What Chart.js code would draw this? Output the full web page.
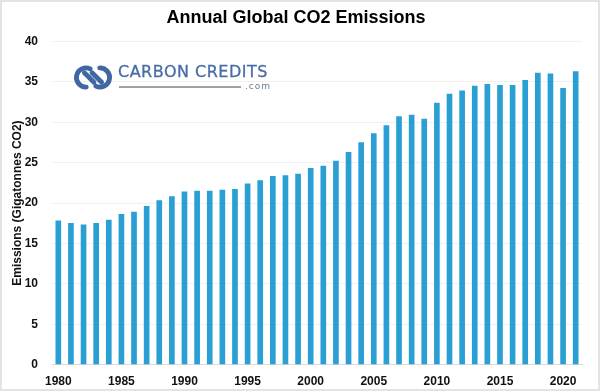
<!DOCTYPE html>
<html>
<head>
<meta charset="utf-8">
<script src="https://cdn.jsdelivr.net/npm/chart.js@4"></script>
<style>
  html, body { margin: 0; padding: 0; background: #fff; }
  #wrap { position: relative; width: 600px; height: 391px; }
  #frame { position: absolute; inset: 0; border: 2px solid #e3e3e3; pointer-events: none; }
  #logo { position: absolute; left: 71px; top: 62px; width: 200px; height: 32px; font-family: 'DejaVu Sans', sans-serif; }
  #logo svg { position: absolute; left: 0; top: 1px; }
  #logo .name { position: absolute; left: 47px; top: 0; font-size: 16px; color: #476ca6; letter-spacing: 0.5px; white-space: nowrap; -webkit-text-stroke: 0.3px #476ca6; }
  #logo .rule { position: absolute; left: 48px; top: 24px; width: 122px; height: 2px; background: #a0a0a0; }
  #logo .com { position: absolute; left: 174px; top: 19px; font-size: 9px; color: #6d7f99; letter-spacing: 1px; }
</style>
</head>
<body>
<div id="wrap">
  <canvas id="co2Chart" width="600" height="391"></canvas>
  <div id="logo">
    <svg width="44" height="29" viewBox="0 0 46 30">
      <path d="M20 6 A10 10 0 1 0 16 25" fill="none" stroke="#3f67a3" stroke-width="5" stroke-linecap="round"/>
      <path d="M26 24 A10 10 0 1 0 30 5" fill="none" stroke="#3f67a3" stroke-width="5" stroke-linecap="round"/>
      <path d="M14 10 L24 20" fill="none" stroke="#3f67a3" stroke-width="5" stroke-linecap="round"/>
      <path d="M22 10 L32 20" fill="none" stroke="#3f67a3" stroke-width="5" stroke-linecap="round"/>
    </svg>
    <span class="name">CARBON CREDITS</span>
    <div class="rule"></div>
    <span class="com">.com</span>
  </div>
  <div id="frame"></div>
</div>
<script>
// ─── Data ─────────────────────────────────────────────
const years = [
  '1980', '1981', '1982', '1983', '1984', '1985', '1986', '1987', '1988', '1989',
  '1990', '1991', '1992', '1993', '1994', '1995', '1996', '1997', '1998', '1999',
  '2000', '2001', '2002', '2003', '2004', '2005', '2006', '2007', '2008', '2009',
  '2010', '2011', '2012', '2013', '2014', '2015', '2016', '2017', '2018', '2019',
  '2020', '2021'
]
const emissions = [
  17.8, 17.5, 17.3, 17.5, 17.9, 18.6, 18.9, 19.6, 20.3, 20.8,
  21.4, 21.5, 21.5, 21.6, 21.7, 22.4, 22.8, 23.3, 23.4, 23.6,
  24.3, 24.6, 25.2, 26.3, 27.5, 28.6, 29.6, 30.7, 30.9, 30.4,
  32.4, 33.5, 33.9, 34.5, 34.7, 34.6, 34.6, 35.2, 36.1, 36.0,
  34.2, 36.3
]
const shownYears = ['1980', '1985', '1990', '1995', '2000', '2005', '2010', '2015', '2020']

// ─── Style ────────────────────────────────────────────
const FONT     = "'Liberation Sans', Arial, sans-serif"
const BAR_BLUE = '#2a9fd3'

// ─── Chart ────────────────────────────────────────────
const ctx = document.getElementById('co2Chart').getContext('2d')

new Chart(ctx, {
  type: 'bar',
  data: {
    labels: years,
    datasets: [{
      label: 'Emissions',
      data: emissions,
      backgroundColor: BAR_BLUE,
      barThickness: 5
    }]
  },
  options: {
    responsive: false,
    animation: false,
    layout: { padding: { top: 0, right: 18, bottom: 0, left: 10 } },
    scales: {
      x: {
        grid: { display: false },
        border: { color: '#d9d9d9' },
        ticks: {
          autoSkip: false,
          maxRotation: 0,
          color: '#111',
          padding: 2,
          font: { family: FONT, size: 12, weight: 'bold' },
          callback: function (val) {
            const lbl = this.getLabelForValue(val)
            return shownYears.includes(lbl) ? lbl : ''
          }
        }
      },
      y: {
        min: 0,
        max: 40,
        afterFit: scale => { scale.width = 42 },
        grid: { color: '#f0f0f0', drawTicks: false },
        border: { display: false },
        ticks: {
          stepSize: 5,
          color: '#111',
          padding: 14,
          font: { family: FONT, size: 12, weight: 'bold' }
        },
        title: {
          display: true,
          text: 'Emissions (Gigatonnes CO2)',
          color: '#111',
          padding: 0,
          font: { family: FONT, size: 12, weight: 'bold' }
        }
      }
    },
    plugins: {
      legend: { display: false },
      tooltip: { enabled: false },
      title: {
        display: true,
        text: 'Annual Global CO2 Emissions',
        color: '#000',
        padding: { top: 7, bottom: 13 },
        font: { family: FONT, size: 18, weight: 'bold' }
      }
    }
  }
})
</script>
</body>
</html>
